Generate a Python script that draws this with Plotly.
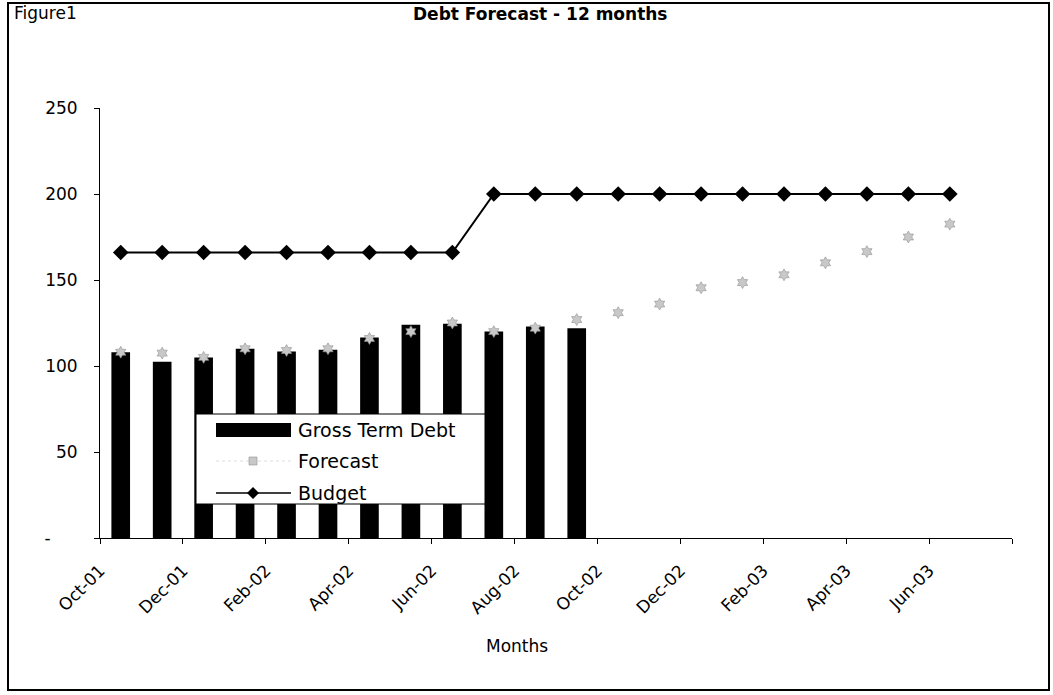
import plotly.graph_objects as go

# Month categories shown on the axis (last one left empty)
months = ["Oct-01", "Nov-01", "Dec-01", "Jan-02", "Feb-02", "Mar-02", "Apr-02",
          "May-02", "Jun-02", "Jul-02", "Aug-02", "Sep-02", "Oct-02", "Nov-02",
          "Dec-02", "Jan-03", "Feb-03", "Mar-03", "Apr-03", "May-03", "Jun-03",
          "Jul-03"]

# Actual gross term debt (Oct-01 .. Sep-02)
gross_term_debt = [108, 102.5, 105, 110, 108.5, 109.5, 116.5, 124, 124.5, 120, 123, 122]

# Forecast (Oct-01 .. Jun-03)
forecast = [108, 107.5, 105, 110, 109, 110, 116, 120, 125, 120, 122, 127,
            131, 136, 145.5, 148.5, 153, 160, 166.5, 175, 182.5]

# Budget (Oct-01 .. Jun-03)
budget = [166, 166, 166, 166, 166, 166, 166, 166, 166,
          200, 200, 200, 200, 200, 200, 200, 200, 200, 200, 200, 200]

y_ticks = [0, 50, 100, 150, 200, 250]
y_tick_text = ["-\u00a0\u00a0\u00a0\u00a0\u00a0", "50", "100", "150", "200", "250"]

FONT = "DejaVu Sans"

x_debt = list(range(len(gross_term_debt)))
x_fc = list(range(len(forecast)))
x_bud = list(range(len(budget)))

fig = go.Figure()

fig.add_trace(go.Bar(
    x=x_debt, y=gross_term_debt, name="Gross Term Debt",
    marker=dict(color="black", line=dict(width=0)), width=0.45,
))
fig.add_trace(go.Scatter(
    x=x_bud, y=budget, name="Budget", mode="lines+markers",
    line=dict(color="black", width=2),
    marker=dict(symbol="diamond", size=12, color="black"),
))
fig.add_trace(go.Scatter(
    x=x_fc, y=forecast, name="Forecast", mode="markers",
    marker=dict(symbol="hexagram", size=9, color="#c8c8c8",
                line=dict(color="#909090", width=0.6)),
))

# Tick marks on category boundaries, every second month labelled
tick_pos = [i - 0.5 for i in range(0, len(months) + 1, 2)]
tick_txt = [months[i] if i < len(months) - 1 else "" for i in range(0, len(months) + 1, 2)]

fig.update_layout(
    width=1053, height=695,
    margin=dict(l=100, r=41, t=108, b=157),
    paper_bgcolor="white", plot_bgcolor="white",
    showlegend=False,
    font=dict(family=FONT, color="black"),
    bargap=0.5,
    xaxis=dict(
        range=[-0.5, len(months) - 0.5],
        tickmode="array", tickvals=tick_pos, ticktext=tick_txt,
        tickangle=-45, tickfont=dict(size=17),
        ticks="outside", ticklen=5, tickcolor="black",
        showline=True, linecolor="black", linewidth=1,
        showgrid=False, zeroline=False, ticklabelstandoff=10,
    ),
    yaxis=dict(
        range=[0, 250],
        tickmode="array", tickvals=y_ticks, ticktext=y_tick_text,
        tickfont=dict(size=17),
        ticks="outside", ticklen=5, tickcolor="black",
        showline=True, linecolor="black", linewidth=1,
        showgrid=False, zeroline=False, ticklabelstandoff=13,
    ),
)

# Helpers converting page pixels to paper coordinates for the frame and legend
PX0, PX1, PY_TOP, PY_BOT = 100, 1012, 108, 538
def px(x):
    return (x - PX0) / (PX1 - PX0)
def py(y):
    return (PY_BOT - y) / (PY_BOT - PY_TOP)

shapes = []
# Outer frame
shapes.append(dict(type="rect", xref="paper", yref="paper",
                   x0=px(8), x1=px(1049), y0=py(690), y1=py(3),
                   line=dict(color="black", width=2), fillcolor="rgba(0,0,0,0)",
                   layer="above"))
# Legend box
shapes.append(dict(type="rect", xref="paper", yref="paper",
                   x0=px(196), x1=px(485), y0=py(504), y1=py(414),
                   line=dict(color="black", width=1), fillcolor="white",
                   layer="above"))
# Gross Term Debt swatch
shapes.append(dict(type="rect", xref="paper", yref="paper",
                   x0=px(216), x1=px(291), y0=py(437), y1=py(423),
                   line=dict(width=0), fillcolor="black", layer="above"))
# Forecast swatch: faint dotted line and marker
shapes.append(dict(type="line", xref="paper", yref="paper",
                   x0=px(216), x1=px(291), y0=py(461), y1=py(461),
                   line=dict(color="#dddddd", width=1, dash="dot"), layer="above"))
shapes.append(dict(type="rect", xref="paper", yref="paper",
                   x0=px(249), x1=px(257), y0=py(465), y1=py(457),
                   line=dict(color="#909090", width=0.6), fillcolor="#c8c8c8",
                   layer="above"))
# Budget swatch: line with diamond
shapes.append(dict(type="line", xref="paper", yref="paper",
                   x0=px(216), x1=px(291), y0=py(493), y1=py(493),
                   line=dict(color="black", width=1.5), layer="above"))
d = 6
shapes.append(dict(type="path", xref="paper", yref="paper",
                   path=(f"M {px(253 - d)},{py(493)} L {px(253)},{py(493 - d)} "
                         f"L {px(253 + d)},{py(493)} L {px(253)},{py(493 + d)} Z"),
                   line=dict(color="black", width=0), fillcolor="black",
                   layer="above"))

annotations = [
    dict(text="Gross Term Debt", x=px(296), y=py(430), xref="paper", yref="paper",
         xanchor="left", yanchor="middle", showarrow=False, font=dict(size=19)),
    dict(text="Forecast", x=px(296), y=py(461), xref="paper", yref="paper",
         xanchor="left", yanchor="middle", showarrow=False, font=dict(size=19)),
    dict(text="Budget", x=px(296), y=py(493), xref="paper", yref="paper",
         xanchor="left", yanchor="middle", showarrow=False, font=dict(size=19)),
    dict(text="<b>Debt Forecast - 12 months</b>", x=px(540), y=py(14),
         xref="paper", yref="paper", xanchor="center", yanchor="middle",
         showarrow=False, font=dict(size=17)),
    dict(text="Figure1", x=px(12), y=py(13), xref="paper", yref="paper",
         xanchor="left", yanchor="middle", showarrow=False, font=dict(size=17)),
    dict(text="Months", x=px(517), y=py(646), xref="paper", yref="paper",
         xanchor="center", yanchor="middle", showarrow=False, font=dict(size=17)),
]

fig.update_layout(shapes=shapes, annotations=annotations)

fig.write_html("out.html")
